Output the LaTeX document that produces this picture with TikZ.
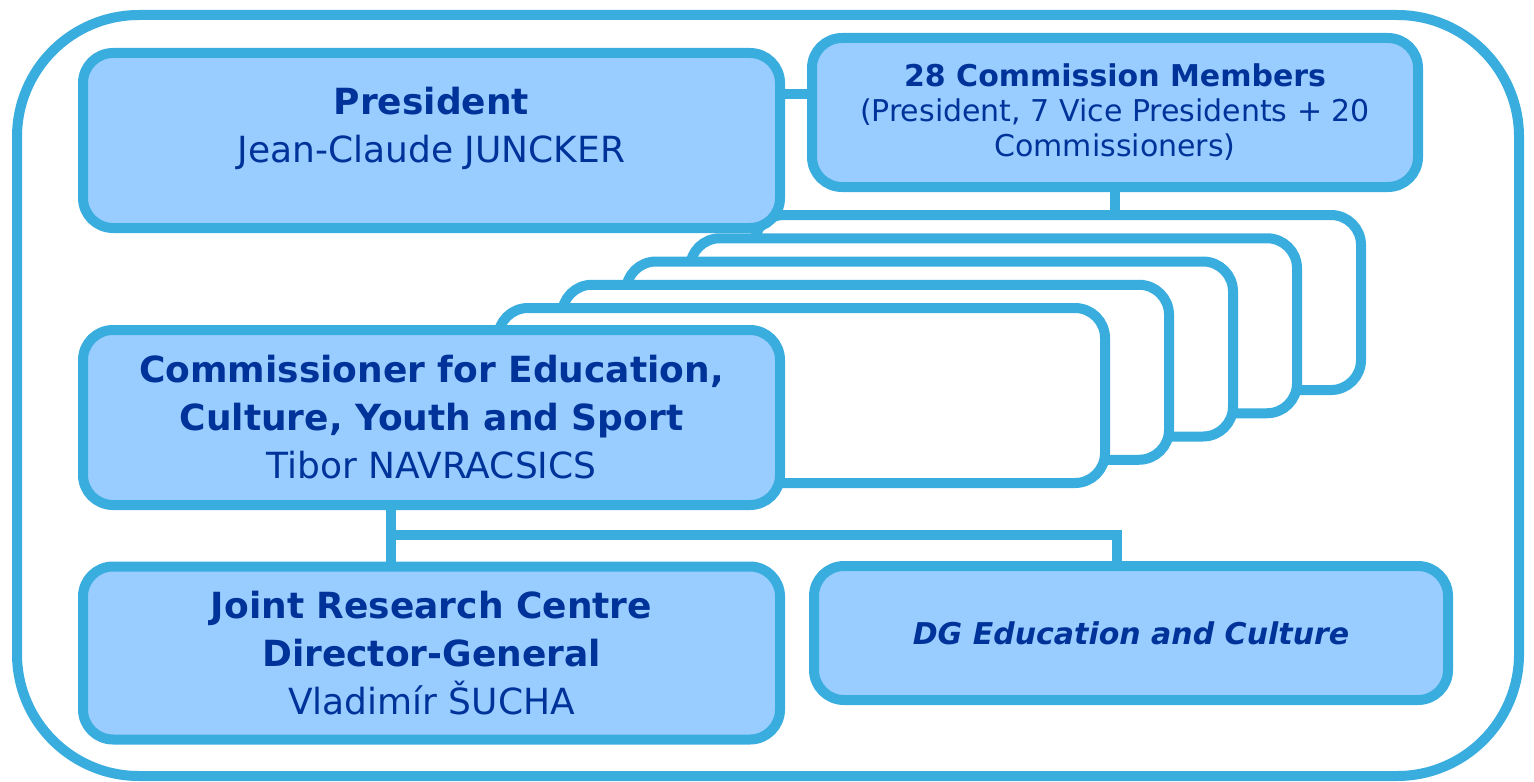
\documentclass[tikz,border=0pt]{standalone}
\usepackage{fontspec}
\setmainfont{DejaVu Sans}
\usepackage{tikz}
\usetikzlibrary{positioning,calc}
\definecolor{lineblue}{HTML}{3AADDF}
\definecolor{fillblue}{HTML}{99CCFF}
\definecolor{textblue}{HTML}{003399}
\tikzset{
  box/.style={draw=lineblue, fill=fillblue, line width=5pt, rounded corners=15pt,
              text=textblue, align=center, inner sep=0pt, font=\fontsize{18}{24}\selectfont},
  smallfont/.style={font=\fontsize{15}{17.5}\selectfont},
  stackbox/.style={draw=lineblue, fill=white, line width=5pt, rounded corners=15pt,
                   minimum width=303.5pt, minimum height=87.5pt},
  link/.style={draw=lineblue, line width=5pt},
  frame/.style={draw=lineblue, line width=5pt, rounded corners=61pt},
}
\begin{document}
\begin{tikzpicture}[x=0.5pt, y=-0.5pt]
  \useasboundingbox (0,0) rectangle (1534,781);
  \draw[frame] (17,15) rectangle (1519,776);

  % stacked commissioner boxes, back to front
  \foreach \i in {1,...,5}
    \node[stackbox] (stack\i) at ({801.5+64*(5-\i)}, {395.5-23.25*(5-\i)}) {};

  \node[box, minimum width=348.5pt, minimum height=87.5pt,
        label={[text=textblue, align=center, font=\fontsize{18}{24}\selectfont, yshift=6pt]center:{\textbf{President}\\Jean-Claude JUNCKER}}]
        (pres) at (431.5,140.5) {};
  \node[box, smallfont, minimum width=303pt, minimum height=74.5pt] (members) at (1115,112.5)
        {\textbf{28 Commission Members}\\(President, 7 Vice Presidents + 20\\Commissioners)};
  \node[box, minimum width=348.5pt, minimum height=87.5pt] (comm) at (431.5,417.5)
        {\textbf{Commissioner for Education,}\\\textbf{Culture, Youth and Sport}\\Tibor NAVRACSICS};
  \node[box, minimum width=348.5pt, minimum height=86.5pt] (jrc) at (431.5,653)
        {\textbf{Joint Research Centre}\\\textbf{Director-General}\\Vladimír ŠUCHA};
  \node[box, smallfont, minimum width=317pt, minimum height=67pt] (dg) at (1131,633)
        {\textbf{\textit{DG Education and Culture}}};

  \coordinate (pm) at ($(pres.north east)!.25!(pres.south east)$);
  \draw[link] (pm) -- (pm -| members.west);
  \draw[link] (members.south) -- (members.south |- stack1.north);

  \coordinate (split) at (391,535);
  \coordinate (dgdrop) at (1117,535);
  \draw[link] (split |- comm.south) -- (split |- jrc.north);
  \draw[link] (split) -- (dgdrop) -- (dgdrop |- dg.north);
\end{tikzpicture}
\end{document}
